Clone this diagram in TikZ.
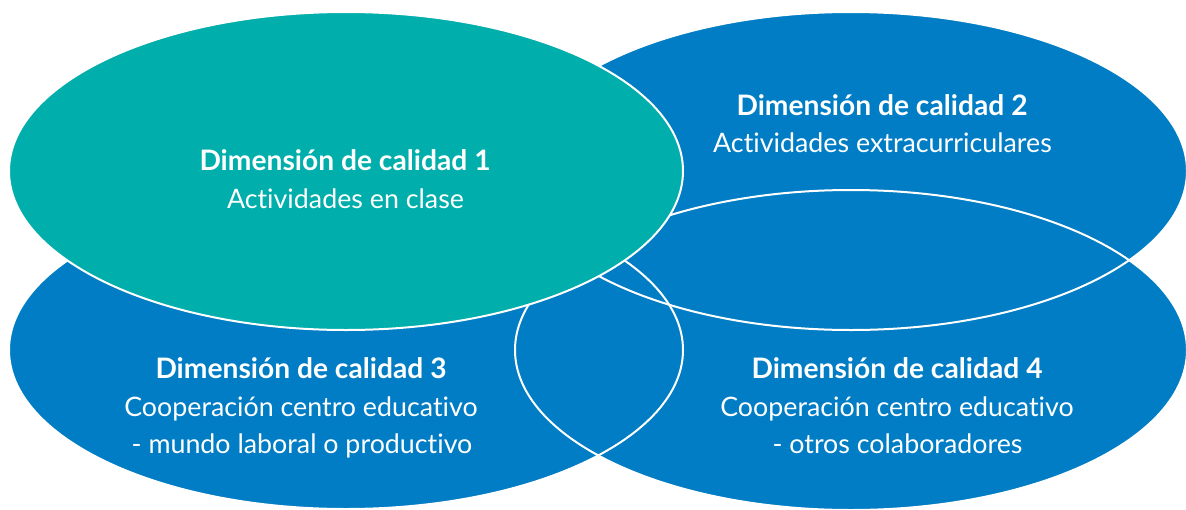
\documentclass[tikz,border=0pt]{standalone}
\usepackage{fontspec}
\setmainfont{Lato}[Ligatures=NoCommon]
\definecolor{tealfill}{RGB}{0,174,172}
\definecolor{bluefill}{RGB}{0,125,196}
\begin{document}
\begin{tikzpicture}[x=1pt,y=-1pt,
  outline/.style={draw=white,line width=2pt},
  ttl/.style={text=white,font=\fontsize{28.2}{32}\selectfont\bfseries,anchor=base,inner sep=0pt},
  sub/.style={text=white,font=\fontsize{26.8}{30}\selectfont,anchor=base,inner sep=0pt}]
\useasboundingbox (0,0) rectangle (1186,509);
% blue fills
\fill[bluefill] (851,171) ellipse [x radius=336pt,y radius=159pt];
\fill[bluefill] (346,350) ellipse [x radius=337pt,y radius=159pt];
\fill[bluefill] (851,350) ellipse [x radius=336pt,y radius=160pt];
% blue outlines
\draw[outline] (851,171) ellipse [x radius=336pt,y radius=159pt];
\draw[outline] (346,350) ellipse [x radius=337pt,y radius=159pt];
\draw[outline] (851,350) ellipse [x radius=336pt,y radius=160pt];
% teal
\filldraw[fill=tealfill,outline] (346,171) ellipse [x radius=337pt,y radius=159pt];
% texts
\node[ttl] (t1a) at (345,170) {Dimensión de calidad 1};
\node[sub] (t1b) at (345.5,208) {Actividades en clase};
\node[ttl] (t2a) at (882,115) {Dimensión de calidad 2};
\node[sub] (t2b) at (882.5,152) {Actividades extracurriculares};
\node[ttl] (t3a) at (301,378) {Dimensión de calidad 3};
\node[sub] (t3b) at (301,416) {Cooperación centro educativo};
\node[sub] (t3c) at (302,453) {- mundo laboral o productivo};
\node[ttl] (t4a) at (897,378) {Dimensión de calidad 4};
\node[sub] (t4b) at (897,416) {Cooperación centro educativo};
\node[sub] (t4c) at (897.5,453) {- otros colaboradores};
\end{tikzpicture}
\end{document}
